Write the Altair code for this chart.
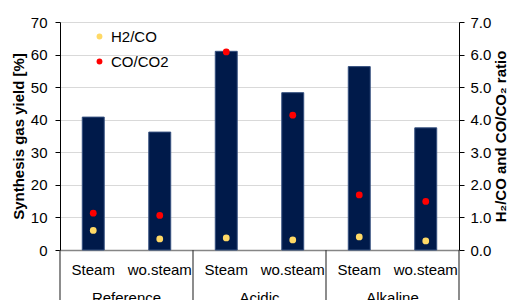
import altair as alt
import pandas as pd

groups = ["Reference", "Reference", "Acidic", "Acidic", "Alkaline", "Alkaline"]
conditions = ["Steam", "wo.steam", "Steam", "wo.steam", "Steam", "wo.steam"]
gas_yield = [40.8, 36.2, 61.0, 48.3, 56.3, 37.5]
h2_co = [0.60, 0.34, 0.37, 0.31, 0.40, 0.28]
co_co2 = [1.13, 1.06, 6.08, 4.14, 1.69, 1.49]

group_names = ["Reference", "Acidic", "Alkaline"]
group_pos = [0.5, 1.5, 2.5]
separators = [0, 1, 2, 3]

FONT = "Liberation Sans"

keys = [f"{g}|{c}" for g, c in zip(groups, conditions)]
bars_df = pd.DataFrame({"key": keys, "yield": gas_yield})
pts_df = pd.DataFrame({
    "key": keys * 2,
    "ratio": h2_co + co_co2,
    "series": ["H2/CO"] * 6 + ["CO/CO2"] * 6,
})
grp_df = pd.DataFrame({"name": group_names, "pos": group_pos})
sep_df = pd.DataFrame({"pos": separators})

xband = alt.X(
    "key:N", sort=keys, title=None,
    scale=alt.Scale(paddingInner=0.67, paddingOuter=0.335),
    axis=alt.Axis(labelExpr="split(datum.label, '|')[1]", labelAngle=0,
                  labelFont=FONT, labelFontSize=15, labelColor="#000",
                  labelPadding=12, ticks=False, domainColor="#868686",
                  domainWidth=1.5, grid=False),
)

bars = alt.Chart(bars_df).mark_bar(color="#001A4A", stroke="#35507F", strokeWidth=1).encode(
    x=xband,
    y=alt.Y("yield:Q", scale=alt.Scale(domain=[0, 70]),
            axis=alt.Axis(values=list(range(0, 71, 10)), title="Synthesis gas yield [%]",
                          titleFont=FONT, titleFontSize=15, titleFontWeight="bold",
                          titleColor="#000", titlePadding=4,
                          labelFont=FONT, labelFontSize=15, labelColor="#000",
                          domainColor="#000", tickColor="#000", tickSize=5,
                          gridColor="#D9D9D9", labelPadding=8)),
)

pts = alt.Chart(pts_df).mark_circle(size=46, opacity=1).encode(
    x=alt.X("key:N", sort=keys),
    y=alt.Y("ratio:Q", scale=alt.Scale(domain=[0, 7]),
            axis=alt.Axis(orient="right", values=[0, 1, 2, 3, 4, 5, 6, 7], format=".1f",
                          title="H₂/CO and CO/CO₂ ratio", titleAngle=270, titleBaseline="top",
                          titleFont=FONT, titleFontSize=15, titleFontWeight="bold",
                          titleColor="#000", titlePadding=3,
                          labelFont=FONT, labelFontSize=15, labelColor="#000",
                          domainColor="#000", tickColor="#000", tickSize=5,
                          grid=False, labelPadding=6)),
    color=alt.Color("series:N",
                    scale=alt.Scale(domain=["H2/CO", "CO/CO2"], range=["#FFD966", "#FF0000"]),
                    legend=alt.Legend(title=None, orient="none", legendX=32, legendY=7,
                                      labelFont=FONT, labelFontSize=15, labelColor="#000",
                                      symbolType="circle", symbolSize=34, rowPadding=9,
                                      labelOffset=4)),
)

seps = alt.Chart(sep_df).mark_rule(color="#404040", strokeWidth=1.2).encode(
    x=alt.X("pos:Q", scale=alt.Scale(domain=[0, 3]), axis=None),
    y=alt.value(228),
    y2=alt.value(300),
)

glabels = alt.Chart(grp_df).mark_text(font=FONT, fontSize=15, color="#000", baseline="alphabetic").encode(
    x=alt.X("pos:Q", scale=alt.Scale(domain=[0, 3]), axis=None),
    y=alt.value(281),
    text="name:N",
)

base = alt.layer(bars, pts).resolve_scale(y="independent")
chart = alt.layer(base, seps, glabels).resolve_scale(x="independent").properties(
    width=399, height=228,
    padding={"left": 52, "top": 14, "right": 49, "bottom": 58},
    autosize=alt.AutoSizeParams(type="none"),
).configure_view(stroke=None).configure_axis(domainWidth=1)

chart.save("out.html", embed_options={"renderer": "svg", "actions": False})
